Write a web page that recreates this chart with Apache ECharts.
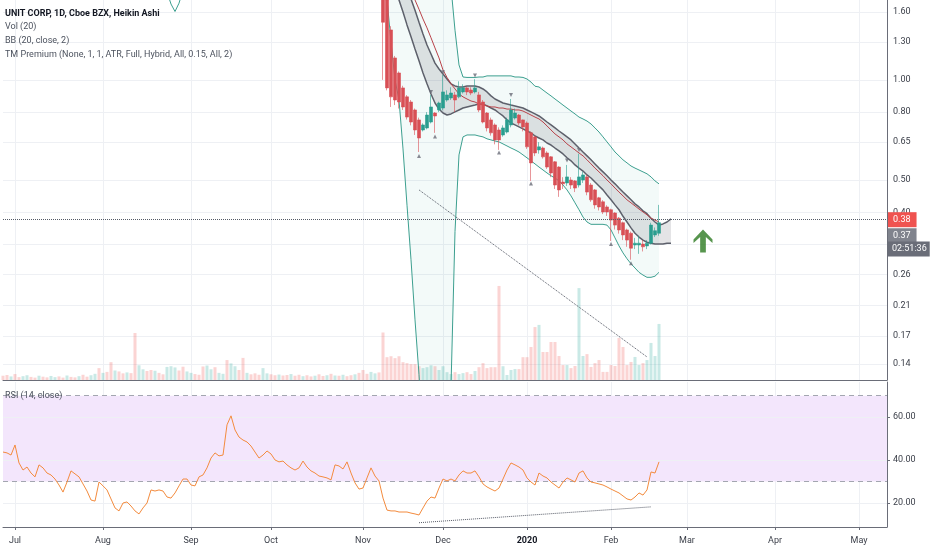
<!DOCTYPE html>
<html>
<head>
<meta charset="utf-8">
<title>UNIT CORP, 1D, Cboe BZX, Heikin Ashi</title>
<script src="https://cdn.jsdelivr.net/npm/echarts@6.0.0/dist/echarts.min.js"></script>
<style>
  html, body { margin: 0; padding: 0; background: #fff; }
  #main { width: 932px; height: 550px; }
</style>
</head>
<body>
<div id="main"></div>
<script>
var FONT = 'Roboto, "Liberation Sans", sans-serif';

// trading days: weekends and US market holidays skipped
var holidays = ['2019-07-04', '2019-09-02', '2019-11-28', '2019-12-25', '2020-01-01',
                '2020-01-20', '2020-02-17', '2020-04-10', '2020-05-25'];
var dates = [];
var day = new Date(Date.UTC(2019, 5, 26));
while (dates.length < 222) {
    var s = day.toISOString().slice(0, 10);
    var wd = day.getUTCDay();
    if (wd !== 0 && wd !== 6 && holidays.indexOf(s) < 0) dates.push(s);
    day.setUTCDate(day.getUTCDate() + 1);
}
var monthNames = ['Jan', 'Feb', 'Mar', 'Apr', 'May', 'Jun', 'Jul', 'Aug', 'Sep', 'Oct', 'Nov', 'Dec'];

var firstBar = '2019-06-26';      // first volume / RSI bar
var candleStart = '2019-11-08';   // first candle visible under 1.60
var earlyBandStart = '2019-08-23';

// Heikin Ashi candles [open, close, low, high]
var candles = [
    [1.90, 1.49, 1.00, 1.95], [1.74, 0.946, 0.93, 1.80], [1.413, 0.889, 0.829, 1.45], [1.164, 0.870, 0.84, 1.18],
    [1.049, 0.858, 0.82, 1.06], [0.946, 0.829, 0.812, 0.96], [0.889, 0.773, 0.76, 0.90], [0.858, 0.747, 0.73, 0.87],
    [0.812, 0.707, 0.683, 0.82], [0.758, 0.669, 0.607, 0.77], [0.707, 0.732, 0.70, 0.74], [0.717, 0.784, 0.71, 0.80],
    [0.747, 0.829, 0.74, 0.901], [0.795, 0.779, 0.693, 0.80], [0.812, 0.852, 0.80, 0.86], [0.823, 0.920, 0.81, 1.035],
    [0.870, 0.901, 0.86, 0.93], [0.882, 0.913, 0.87, 0.95], [0.901, 0.870, 0.80, 0.92], [0.889, 0.946, 0.88, 0.99],
    [0.920, 0.946, 0.91, 0.97], [0.946, 0.920, 0.90, 0.955], [0.932, 0.913, 0.90, 0.95], [0.920, 0.946, 0.91, 1.005],
    [0.901, 0.812, 0.80, 0.92], [0.858, 0.747, 0.74, 0.87], [0.795, 0.717, 0.70, 0.80], [0.758, 0.693, 0.68, 0.77],
    [0.732, 0.660, 0.64, 0.74], [0.707, 0.660, 0.616, 0.72], [0.683, 0.717, 0.675, 0.73], [0.697, 0.758, 0.69, 0.77],
    [0.732, 0.812, 0.72, 0.876], [0.768, 0.795, 0.76, 0.82], [0.784, 0.742, 0.73, 0.79], [0.758, 0.722, 0.70, 0.76],
    [0.742, 0.629, 0.62, 0.75], [0.693, 0.563, 0.497, 0.70], [0.674, 0.603, 0.59, 0.68], [0.616, 0.629, 0.60, 0.65],
    [0.624, 0.587, 0.58, 0.63], [0.603, 0.547, 0.54, 0.61], [0.587, 0.525, 0.51, 0.59], [0.567, 0.483, 0.47, 0.57],
    [0.547, 0.467, 0.445, 0.55], [0.493, 0.487, 0.47, 0.51], [0.490, 0.511, 0.48, 0.555], [0.500, 0.483, 0.47, 0.51],
    [0.497, 0.473, 0.46, 0.50], [0.483, 0.511, 0.475, 0.600], [0.500, 0.518, 0.49, 0.53], [0.511, 0.460, 0.45, 0.52],
    [0.483, 0.436, 0.43, 0.49], [0.467, 0.421, 0.41, 0.47], [0.442, 0.415, 0.405, 0.445], [0.430, 0.401, 0.395, 0.435],
    [0.415, 0.401, 0.39, 0.42], [0.407, 0.379, 0.328, 0.41], [0.398, 0.366, 0.355, 0.40], [0.384, 0.354, 0.345, 0.387],
    [0.372, 0.342, 0.33, 0.375], [0.354, 0.330, 0.315, 0.357], [0.346, 0.312, 0.288, 0.35], [0.319, 0.323, 0.31, 0.335],
    [0.319, 0.323, 0.30, 0.34], [0.321, 0.315, 0.305, 0.33], [0.317, 0.323, 0.31, 0.33], [0.323, 0.366, 0.32, 0.372],
    [0.342, 0.352, 0.337, 0.36], [0.346, 0.372, 0.34, 0.421]
];

// BB (20, close, 2) from candleStart
var bbUpper = [
    3.30, 3.22, 3.15, 3.05, 2.95, 2.88, 2.78, 2.70, 2.58, 2.48,
    2.38, 2.30, 2.22, 2.14, 2.08, 2.02, 1.96, 1.90, 1.41, 1.109,
    1.02, 1.017, 1.017, 1.017, 1.02, 1.02, 1.028, 1.028, 1.028, 1.028,
    1.028, 1.028, 1.028, 1.02, 1.02, 1.017, 1.006, 0.985, 0.957, 0.952,
    0.932, 0.913, 0.895, 0.876, 0.858, 0.840, 0.823, 0.806, 0.790, 0.773,
    0.763, 0.752, 0.737, 0.717, 0.697, 0.674, 0.651, 0.629, 0.607, 0.591,
    0.575, 0.563, 0.551, 0.543, 0.536, 0.529, 0.522, 0.511, 0.497, 0.487
];
var bbLower = [
    1.95, 1.75, 1.30, 1.00, 0.87, 0.62, 0.42, 0.288, 0.19, 0.13,
    0.085, 0.06, 0.05, 0.045, 0.05, 0.06, 0.085, 0.12, 0.35, 0.595,
    0.674, 0.683, 0.683, 0.683, 0.678, 0.674, 0.665, 0.660, 0.655, 0.651,
    0.642, 0.633, 0.624, 0.616, 0.607, 0.595, 0.583, 0.571, 0.559, 0.547,
    0.536, 0.525, 0.515, 0.507, 0.497, 0.483, 0.467, 0.448, 0.427, 0.407,
    0.387, 0.374, 0.368, 0.368, 0.368, 0.368, 0.366, 0.354, 0.335, 0.317,
    0.302, 0.290, 0.280, 0.272, 0.264, 0.259, 0.255, 0.255, 0.257, 0.264
];
var bbLowerEarly = [1.84, 1.69, 1.605, 1.70, 1.86];

// TM Premium band (runs 3 bars past the last candle) and its red line
var tmUpper = [
    2.70, 2.55, 2.40, 2.30, 2.10, 1.95, 1.85, 1.75, 1.62, 1.49,
    1.373, 1.273, 1.196, 1.123, 1.078, 1.042, 1.006, 0.973, 0.959, 0.952,
    0.952, 0.959, 0.959, 0.959, 0.952, 0.939, 0.920, 0.895, 0.876, 0.864,
    0.852, 0.846, 0.840, 0.835, 0.829, 0.823, 0.812, 0.801, 0.790, 0.779,
    0.763, 0.747, 0.732, 0.717, 0.702, 0.688, 0.674, 0.660, 0.642, 0.624,
    0.607, 0.591, 0.575, 0.559, 0.543, 0.529, 0.515, 0.500, 0.487, 0.473,
    0.460, 0.448, 0.436, 0.424, 0.415, 0.404, 0.396, 0.384, 0.374, 0.366,
    0.369, 0.374, 0.382
];
var tmLower = [
    2.30, 2.15, 2.00, 1.84, 1.738, 1.60, 1.463, 1.347, 1.238, 1.141,
    1.049, 0.973, 0.907, 0.852, 0.817, 0.795, 0.784, 0.790, 0.801, 0.812,
    0.823, 0.829, 0.835, 0.840, 0.846, 0.846, 0.835, 0.823, 0.812, 0.795,
    0.779, 0.758, 0.742, 0.732, 0.722, 0.712, 0.702, 0.693, 0.678, 0.669,
    0.660, 0.646, 0.637, 0.624, 0.612, 0.599, 0.583, 0.571, 0.555, 0.543,
    0.532, 0.518, 0.507, 0.493, 0.480, 0.467, 0.451, 0.436, 0.421, 0.407,
    0.389, 0.374, 0.359, 0.346, 0.337, 0.330, 0.325, 0.323, 0.321, 0.321,
    0.321, 0.323, 0.323
];
var tmMid = [
    3.00, 2.80, 2.60, 2.40, 2.25, 2.10, 1.98, 1.85, 1.738, 1.63,
    1.524, 1.433, 1.338, 1.247, 1.164, 1.071, 1.017, 0.973, 0.939, 0.907,
    0.889, 0.876, 0.864, 0.858, 0.846, 0.840, 0.835, 0.829, 0.829, 0.823,
    0.823, 0.817, 0.817, 0.812, 0.812, 0.806, 0.795, 0.784, 0.773, 0.763,
    0.747, 0.727, 0.707, 0.688, 0.674, 0.660, 0.642, 0.629, 0.616, 0.603,
    0.591, 0.575, 0.559, 0.543, 0.529, 0.515, 0.500, 0.487, 0.473, 0.460,
    0.448, 0.436, 0.427, 0.418, 0.409, 0.401, 0.393, 0.384, 0.379, 0.374
];

// volume (M) and RSI from firstBar
var volume = [
    1.8, 2.1, 1.5, 2.5,
    1.2, 1.6, 2.0, 1.3, 1.0, 1.8, 1.4, 1.1, 1.7, 1.2,
    1.5, 1.0, 1.9, 1.3, 1.1, 1.6, 2.2, 1.4, 2.0, 2.6,
    5.0, 3.0, 3.4, 7.5, 4.0, 3.6, 2.8, 3.2, 2.9, 19.8,
    6.2, 4.5, 3.8, 4.2, 3.9, 3.0, 2.4, 5.5, 5.8, 5.3,
    4.0, 5.6, 3.6, 3.0, 2.5, 2.2, 5.7, 6.1, 4.5, 5.4,
    3.0, 2.6, 8.4, 7.0, 5.8, 4.2, 9.3, 3.0, 2.4, 2.8,
    2.2, 5.0, 2.8, 2.4, 2.0, 2.3, 1.9, 2.1, 2.5, 1.8,
    2.2, 1.6, 2.0, 1.5, 1.8, 2.4, 1.7, 2.0, 2.6, 1.9,
    1.8, 2.2, 1.6, 2.0, 2.4, 3.0, 4.2, 2.6, 3.4, 2.8, 3.2,
    20.0, 9.6, 10.0, 9.2, 10.0, 7.5, 7.1, 6.7, 6.7, 5.8,
    5.0, 5.4, 6.2, 5.8, 4.2, 5.8, 3.3, 2.5, 3.3, 2.5,
    2.9, 3.3, 2.5, 3.8, 5.4, 7.1, 5.0, 5.4, 5.4, 39.6,
    5.8, 2.1, 4.2, 4.6, 4.6, 9.6, 9.6, 13.9, 22.3, 23.2,
    11.8, 11.8, 16.0, 16.0, 10.1, 6.3, 6.3, 5.0, 5.9, 38.7,
    10.1, 10.9, 5.5, 7.1, 8.4, 3.4, 3.4, 6.3, 5.9, 17.7,
    13.9, 6.3, 7.6, 9.7, 6.3, 7.1, 8.4, 15.6, 10.1, 23.6
];
// up/down of the volume bars before the first visible candle
var volDir = 'ddud' + 'duuddudduu' + 'dduddudduu' + 'dudduddudd' + 'uuddudduuu' +
             'dduuddduud' + 'uuduuddudd' + 'duudduddud' + 'dudduddudu' + 'dudduddduud';
var rsi = [
    43.7, 43.3, 42.3, 47.0,
    38.6, 35.3, 36.7, 33.9, 32.1, 37.7, 36.3, 33.9, 33.0, 31.1,
    28.3, 25.0, 29.7, 34.9, 33.5, 32.1, 28.8, 25.5, 21.3, 20.8,
    29.7, 27.9, 26.0, 21.8, 17.6, 16.2, 19.9, 20.4, 18.5, 16.2,
    14.8, 17.6, 19.9, 26.0, 25.5, 26.0, 25.5, 22.7, 22.2, 24.6,
    27.9, 31.1, 31.1, 28.3, 27.9, 32.1, 33.0, 36.3, 40.9, 43.3,
    41.9, 42.3, 56.4, 60.6, 54.0, 50.7, 49.3, 48.4, 46.5, 43.7,
    40.9, 42.3, 44.2, 42.8, 40.0, 39.1, 39.5, 37.7, 36.3, 35.3,
    36.3, 39.5, 36.7, 34.9, 33.9, 32.5, 32.1, 31.6, 30.7, 37.7,
    37.2, 35.8, 39.1, 33.9, 29.3, 26.4, 26.9, 31.6, 36.3, 32.5, 30.2,
    22.2, 16.6, 16.2, 16.2, 15.7, 15.7, 15.7, 15.2, 14.8, 14.3,
    17.6, 20.8, 22.7, 22.2, 26.9, 31.1, 30.2, 31.1, 30.2, 33.0,
    34.9, 33.9, 33.9, 34.9, 32.1, 28.8, 27.4, 26.4, 25.5, 26.9,
    31.1, 35.3, 38.6, 37.7, 36.7, 35.3, 31.6, 29.7, 28.3, 33.9,
    32.5, 31.6, 29.7, 28.3, 26.9, 29.7, 31.6, 30.7, 29.7, 33.9,
    34.9, 31.6, 29.7, 29.3, 28.8, 28.3, 27.4, 26.4, 25.5, 24.6,
    23.2, 21.8, 21.3, 22.7, 24.6, 23.6, 26.0, 34.4, 33.9, 39.1
];

// TM signal marks, drawings
var topMarks = [['2019-11-26', 0.92], ['2019-12-02', 1.055], ['2019-12-12', 1.03],
                ['2019-12-26', 0.90], ['2020-01-16', 0.572], ['2020-01-22', 0.615]];
var bottomMarks = [['2019-11-21', 0.59], ['2019-11-27', 0.676], ['2019-12-20', 0.605],
                   ['2020-01-03', 0.488], ['2020-02-03', 0.321], ['2020-02-10', 0.281]];
var priceTrend = [['2019-11-21', 0.467], ['2020-02-14', 0.147]];
var rsiTrend = [['2019-11-21', 10.7], ['2020-02-18', 18.1]];
var arrowMark = [['2020-03-06', 0.328]];

var priceTicks = [1.60, 1.30, 1.00, 0.80, 0.65, 0.50, 0.40, 0.32, 0.26, 0.21, 0.17, 0.14];
var rsiTicks = [20, 40, 60];
var lastPrice = 0.38;

function idx(d) { return dates.indexOf(d); }
function place(arr, start) {
    var out = dates.map(function () { return '-'; });
    var st = idx(start);
    arr.forEach(function (v, j) { out[st + j] = v; });
    return out;
}
function monthStart(k) {
    return k > 0 && dates[k].slice(0, 7) !== dates[k - 1].slice(0, 7);
}

var cStart = idx(candleStart);
var candleData = dates.map(function () { return ['-', '-', '-', '-']; });
candles.forEach(function (c, j) { candleData[cStart + j] = c; });

var bbLowAll = place(bbLower, candleStart);
bbLowerEarly.forEach(function (v, j) { bbLowAll[idx(earlyBandStart) + j] = v; });
var bbUpAll = place(bbUpper, candleStart);
var bbDiff = bbUpAll.map(function (u, k) {
    return (u === '-' || bbLowAll[k] === '-') ? '-' : u - bbLowAll[k];
});
var tmLowAll = place(tmLower, candleStart);
var tmDiff = place(tmUpper, candleStart).map(function (u, k) {
    return (u === '-' || tmLowAll[k] === '-') ? '-' : u - tmLowAll[k];
});

var vStart = idx(firstBar);
var volData = place(volume, firstBar).map(function (v, k) {
    if (v === '-') return v;
    var ci = k - cStart, up;
    if (ci >= 0 && ci < candles.length) up = candles[ci][1] >= candles[ci][0];
    else up = volDir.charAt(k - vStart) === 'u';
    return { value: v, itemStyle: { color: up ? 'rgba(38,166,154,0.25)' : 'rgba(239,83,80,0.25)' } };
});

var GRID = '#eef0f4';
var AXIS = '#6a6d78';
var TXT = '#3a3e48';
var NOLINE = { color: 'rgba(0,0,0,0)', width: 1, type: 'solid' };

function legendTitle(text, top, bold) {
    return {
        text: text, left: 5, top: top, padding: 0,
        textStyle: { fontSize: 9, fontFamily: FONT, fontWeight: bold ? 'bold' : 'normal', color: bold ? '#131722' : '#4c525e' }
    };
}

var xCommon = {
    type: 'category', data: dates, boundaryGap: false,
    axisLine: { show: true, lineStyle: { color: AXIS } },
    splitLine: { show: true, interval: function (i) { return monthStart(i); }, lineStyle: { color: GRID } }
};

var option = {
    animation: false,
    backgroundColor: '#ffffff',
    title: [
        legendTitle('UNIT CORP, 1D, Cboe BZX, Heikin Ashi', 9, true),
        legendTitle('Vol (20)', 22),
        legendTitle('BB (20, close, 2)', 36),
        legendTitle('TM Premium (None, 1, 1, ATR, Full, Hybrid, All, 0.15, All, 2)', 50),
        legendTitle('RSI (14, close)', 391)
    ],
    grid: [
        { left: 3, right: 45, top: 0, height: 380 },
        { left: 3, right: 45, top: 382, bottom: 23 }
    ],
    xAxis: [
        Object.assign({ gridIndex: 0, axisTick: { show: false }, axisLabel: { show: false } }, xCommon),
        Object.assign({
            gridIndex: 1,
            axisTick: { show: true, length: 3, interval: function (i) { return monthStart(i); }, lineStyle: { color: AXIS } },
            axisLabel: {
                interval: function (i) { return monthStart(i); },
                margin: 9, fontSize: 9, fontFamily: FONT, color: TXT,
                formatter: function (v) {
                    var m = +v.slice(5, 7);
                    return m === 1 ? '{y|' + v.slice(0, 4) + '}' : monthNames[m - 1];
                },
                rich: { y: { fontSize: 9, fontFamily: FONT, fontWeight: 'bold', color: '#131722' } }
            }
        }, xCommon)
    ],
    yAxis: [
        {
            gridIndex: 0, type: 'log', position: 'right', min: 0.1253, max: 1.738,
            axisLine: { show: true, lineStyle: { color: AXIS } },
            axisTick: { show: false }, axisLabel: { show: false }, splitLine: { show: false }
        },
        { gridIndex: 0, type: 'value', min: 0, max: 160, show: false },
        {
            gridIndex: 1, type: 'value', position: 'right', min: 8.7, max: 76.4,
            axisLine: { show: true, lineStyle: { color: AXIS } },
            axisTick: { show: true, length: 3, customValues: rsiTicks, lineStyle: { color: AXIS } },
            axisLabel: {
                customValues: rsiTicks, margin: 6, fontSize: 9, fontFamily: FONT, color: TXT,
                formatter: function (v) { return v.toFixed(2); }
            },
            splitLine: { show: false }
        }
    ],
    series: [
        {
            name: 'Vol', type: 'bar', xAxisIndex: 0, yAxisIndex: 1, data: volData,
            barWidth: 3, silent: true, z: 1
        },
        {
            name: 'BB lower', type: 'line', xAxisIndex: 0, yAxisIndex: 0, data: bbLowAll, stack: 'bb',
            symbol: 'none', silent: true, z: 2, lineStyle: { color: '#3c9f8f', width: 1 }
        },
        {
            name: 'BB upper', type: 'line', xAxisIndex: 0, yAxisIndex: 0, data: bbDiff, stack: 'bb',
            symbol: 'none', silent: true, z: 2, lineStyle: { color: '#3c9f8f', width: 1 },
            areaStyle: { color: 'rgba(38,166,154,0.08)' }
        },
        {
            name: 'TM lower', type: 'line', xAxisIndex: 0, yAxisIndex: 0, data: tmLowAll, stack: 'tm',
            symbol: 'none', silent: true, z: 3, lineStyle: { color: '#5d606b', width: 1.5 }
        },
        {
            name: 'TM upper', type: 'line', xAxisIndex: 0, yAxisIndex: 0, data: tmDiff, stack: 'tm',
            symbol: 'none', silent: true, z: 3, lineStyle: { color: '#5d606b', width: 1.5 },
            areaStyle: { color: 'rgba(110,113,122,0.27)' }
        },
        {
            name: 'TM mid', type: 'line', xAxisIndex: 0, yAxisIndex: 0, data: place(tmMid, candleStart),
            symbol: 'none', silent: true, z: 4, lineStyle: { color: '#b8434a', width: 1 }
        },
        {
            name: 'UNT', type: 'candlestick', xAxisIndex: 0, yAxisIndex: 0, data: candleData,
            barWidth: 2.8, silent: true, z: 5,
            itemStyle: { color: '#2a9d8f', color0: '#d84f55', borderColor: '#2a9d8f', borderColor0: '#d84f55', borderWidth: 0.6 }
        },
        {
            name: 'TM top', type: 'scatter', xAxisIndex: 0, yAxisIndex: 0, data: topMarks,
            symbol: 'triangle', symbolRotate: 180, symbolSize: 4, silent: true, z: 6,
            itemStyle: { color: '#6a6d78' }
        },
        {
            name: 'TM bottom', type: 'scatter', xAxisIndex: 0, yAxisIndex: 0, data: bottomMarks,
            symbol: 'triangle', symbolSize: 4, silent: true, z: 6,
            itemStyle: { color: '#6a6d78' }
        },
        {
            name: 'trend', type: 'line', xAxisIndex: 0, yAxisIndex: 0, data: priceTrend,
            symbol: 'none', silent: true, clip: false, z: 6,
            lineStyle: { color: '#555a66', width: 1, type: 'dotted' },
            // price scale grid and labels
            markLine: {
                silent: true, symbol: 'none', z: 1, animation: false,
                lineStyle: { color: GRID, width: 1, type: 'solid' },
                label: {
                    position: 'end', distance: 6, fontSize: 9, fontFamily: FONT, color: TXT,
                    formatter: function (p) { return p.value.toFixed(2); }
                },
                data: priceTicks.map(function (v) { return { yAxis: v }; })
            }
        },
        {
            name: 'arrow', type: 'scatter', xAxisIndex: 0, yAxisIndex: 0, data: arrowMark,
            symbol: 'path://M10 0 L20 10 L20 13.5 L13 7.5 L13 23 L7 23 L7 7.5 L0 13.5 L0 10 Z',
            symbolSize: [19, 23], silent: true, clip: false, z: 6,
            itemStyle: { color: '#2d7b22' },
            // last price / band value / countdown labels
            markLine: {
                silent: true, symbol: 'none', z: 10, animation: false,
                label: { position: 'end', distance: 1, fontSize: 9, fontFamily: FONT, color: '#ffffff' },
                data: [
                    {
                        yAxis: lastPrice, lineStyle: { color: '#555a66', width: 1, type: 'dotted' },
                        label: { formatter: '0.38', backgroundColor: '#ef5350', padding: [3, 6, 3, 5] }
                    },
                    {
                        yAxis: 0.337, lineStyle: NOLINE,
                        label: { formatter: '0.37', backgroundColor: '#80838d', padding: [3, 6, 3, 5] }
                    },
                    {
                        yAxis: 0.3066, lineStyle: NOLINE,
                        label: { formatter: '02:51:36', backgroundColor: '#6a6d78', padding: [3, 3, 3, 4] }
                    }
                ]
            }
        },
        {
            name: 'RSI', type: 'line', xAxisIndex: 1, yAxisIndex: 2, data: place(rsi, firstBar),
            symbol: 'none', silent: true, z: 6, lineStyle: { color: '#f38b3e', width: 1 },
            markArea: {
                silent: true, itemStyle: { color: '#f3e6fc' },
                data: [[{ yAxis: 30 }, { yAxis: 70 }]]
            },
            markLine: {
                silent: true, symbol: 'none', z: 2, animation: false, label: { show: false },
                lineStyle: { color: GRID, width: 1, type: 'solid' },
                data: rsiTicks.map(function (v) { return { yAxis: v }; }).concat([
                    { yAxis: 70, lineStyle: { color: '#a3a6b0', type: [5, 4], width: 1 } },
                    { yAxis: 30, lineStyle: { color: '#a3a6b0', type: [5, 4], width: 1 } }
                ])
            }
        },
        {
            name: 'RSI trend', type: 'line', xAxisIndex: 1, yAxisIndex: 2, data: rsiTrend,
            symbol: 'none', silent: true, z: 6, lineStyle: { color: '#555a66', width: 1, type: 'dotted' }
        }
    ]
};

echarts.init(document.getElementById('main')).setOption(option);
</script>
</body>
</html>
